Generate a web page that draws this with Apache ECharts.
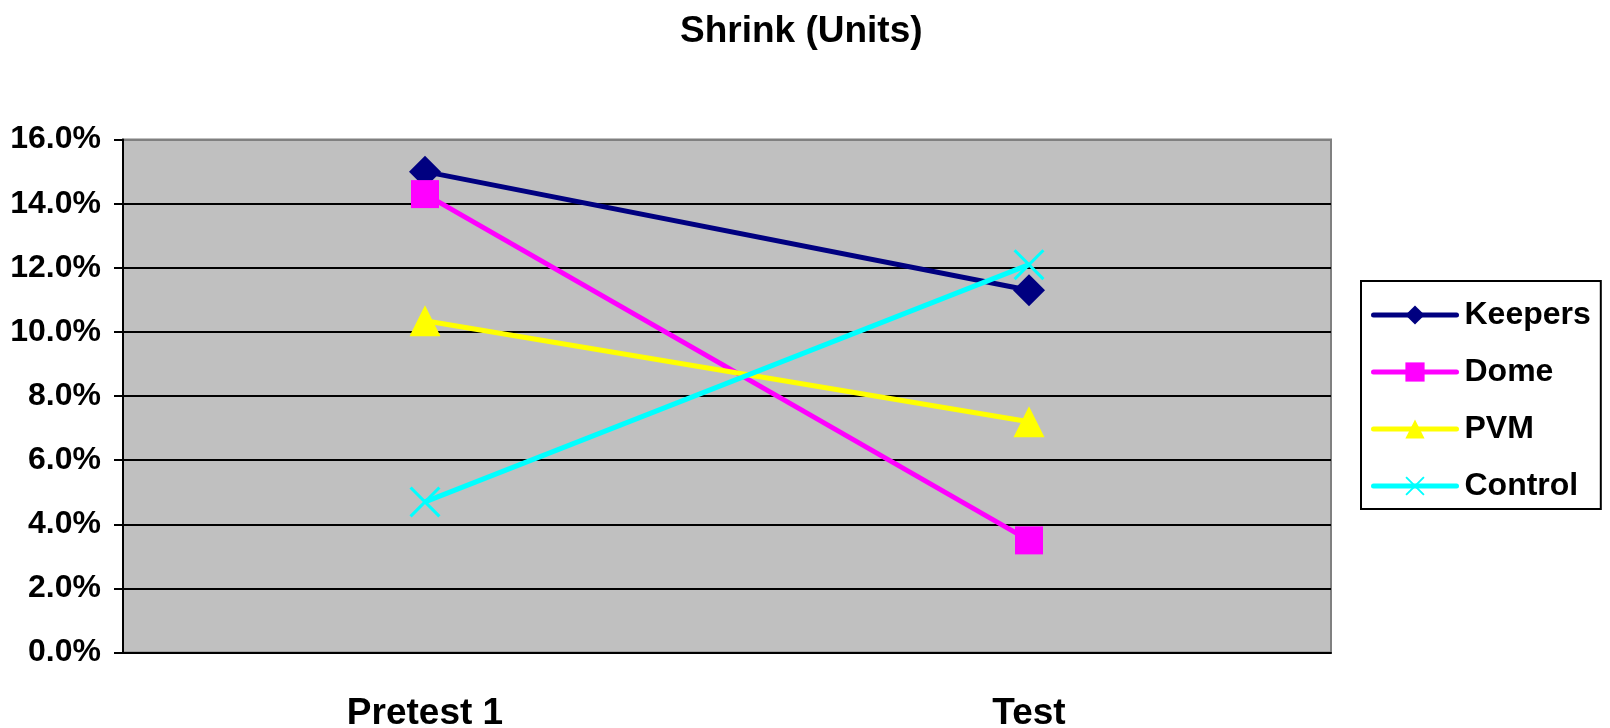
<!DOCTYPE html>
<html>
<head>
<meta charset="utf-8">
<script src="https://cdn.jsdelivr.net/npm/echarts@6/dist/echarts.min.js"></script>
<style>
html,body{margin:0;padding:0;background:#fff;}
#chart{width:1610px;height:728px;}
</style>
</head>
<body>
<div id="chart"></div>
<script>
const categories = ['Pretest 1', 'Test'];
const keepers = [15.0, 11.3];
const dome = [14.3, 3.5];
const pvm = [10.35, 7.2];
const control = [4.7, 12.1];
const seriesNames = ['Keepers', 'Dome', 'PVM', 'Control'];
const yTicks = [0, 2, 4, 6, 8, 10, 12, 14, 16];

const FONT = '"Liberation Sans", Arial, sans-serif';
const xSymbol = 'path://M0,0.7L0.7,0L10,9.3L9.3,10Z M9.3,0L10,0.7L0.7,10L0,9.3Z';

function mkSeries(name, data, color, symbol, size) {
  return {
    name: name,
    type: 'line',
    data: data,
    symbol: symbol,
    symbolSize: size,
    symbolKeepAspect: true,
    lineStyle: { color: color, width: 5 },
    itemStyle: { color: color, borderWidth: 0 },
    emphasis: { disabled: true },
    z: 3
  };
}

const chart = echarts.init(document.getElementById('chart'), null, { renderer: 'canvas' });
chart.setOption({
  animation: false,
  backgroundColor: '#ffffff',
  title: {
    text: 'Shrink (Units)',
    left: 675,
    top: 8,
    textStyle: { fontFamily: FONT, fontWeight: 'bold', fontSize: 37, color: '#000' }
  },
  grid: {
    left: 123, right: 279, top: 139.6, bottom: 75.4,
    outerBoundsMode: 'none',
    containLabel: false,
    show: true, backgroundColor: '#C0C0C0', borderColor: '#808080', borderWidth: 2
  },
  legend: {
    data: seriesNames,
    orient: 'vertical',
    left: 1361,
    top: 281,
    padding: [18, 10, 7, 10],
    itemGap: 25,
    itemWidth: 83,
    itemHeight: 24,
    borderColor: '#000',
    borderWidth: 2,
    backgroundColor: '#fff',
    lineStyle: { width: 5, cap: 'round' },
    textStyle: { fontFamily: FONT, fontWeight: 'bold', fontSize: 32, color: '#000', padding: [0, 0, 0, 3] }
  },
  xAxis: {
    type: 'category',
    data: categories,
    boundaryGap: true,
    axisLine: { lineStyle: { color: '#000', width: 2 } },
    axisTick: { inside: true, length: 12, lineStyle: { color: '#000', width: 2 } },
    axisLabel: { margin: 43, fontFamily: FONT, fontWeight: 'bold', fontSize: 37, color: '#000' },
    splitLine: { show: false }
  },
  yAxis: {
    type: 'value',
    min: yTicks[0],
    max: yTicks[yTicks.length - 1],
    interval: 2,
    axisLine: { show: true, lineStyle: { color: '#000', width: 2 } },
    axisTick: { show: true, length: 9, lineStyle: { color: '#000', width: 2 } },
    axisLabel: {
      margin: 22, fontFamily: FONT, fontWeight: 'bold', fontSize: 32, color: '#000',
      formatter: v => v.toFixed(1) + '%'
    },
    splitLine: { lineStyle: { color: ['#000','#000','#000','#000','#000','#000','#000','#000','#808080'], width: 2 } }
  },
  series: [
    mkSeries('Keepers', keepers, '#000080', 'diamond', 32),
    mkSeries('Dome', dome, '#FF00FF', 'rect', 28),
    mkSeries('PVM', pvm, '#FFFF00', 'triangle', 31),
    mkSeries('Control', control, '#00FFFF', xSymbol, 31)
  ]
});
</script>
</body>
</html>
